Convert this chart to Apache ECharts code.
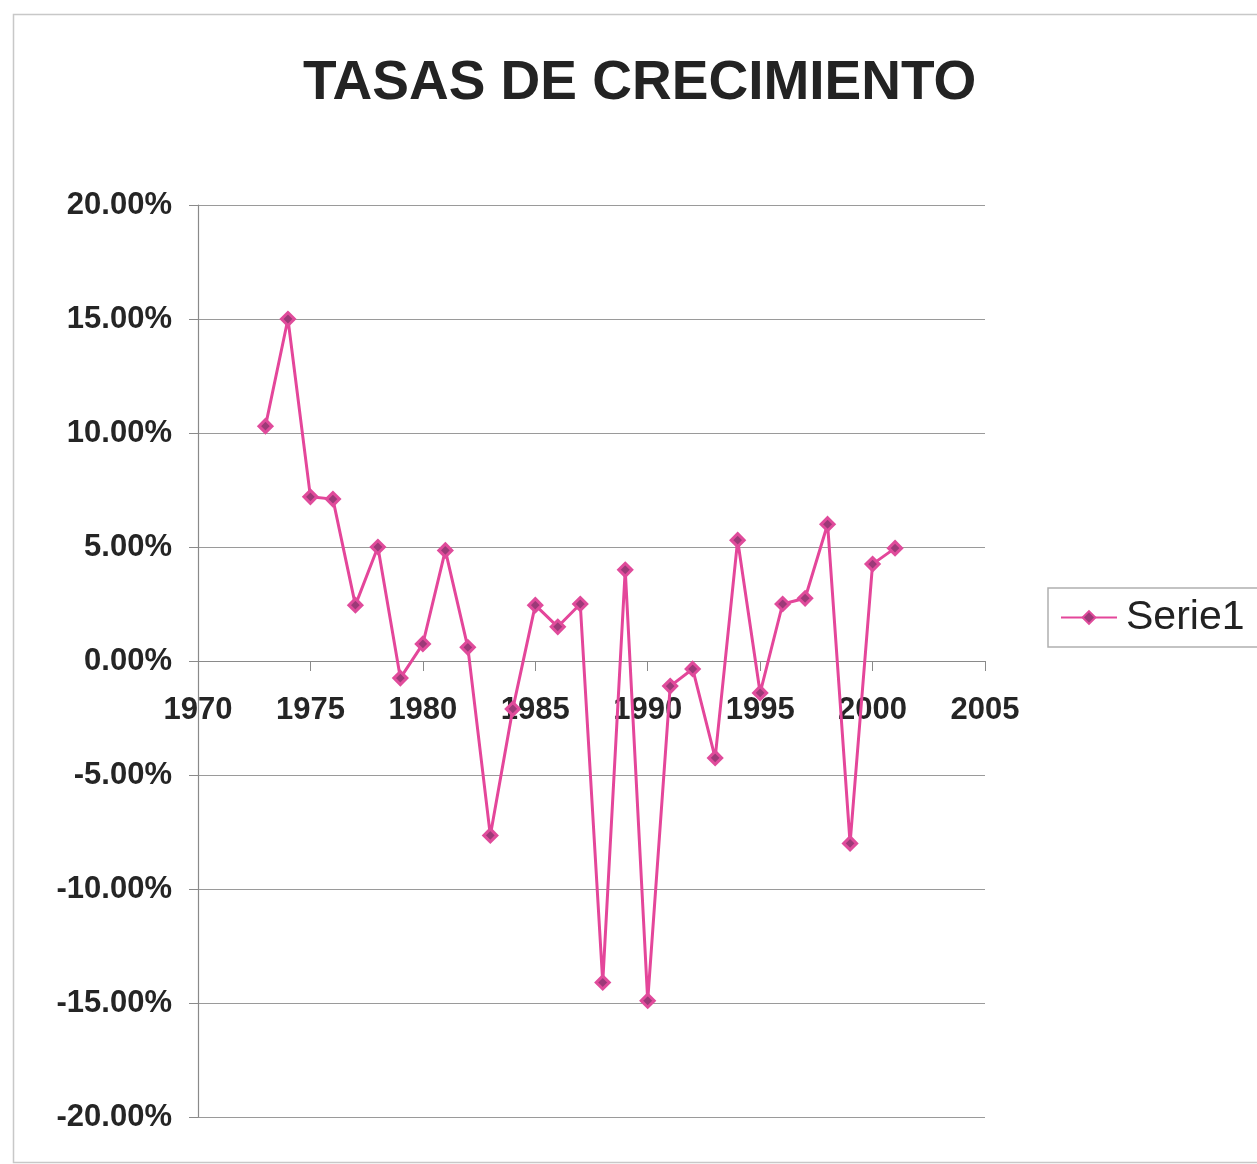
<!DOCTYPE html>
<html>
<head>
<meta charset="utf-8">
<script src="https://cdn.jsdelivr.net/npm/echarts@6/dist/echarts.min.js"></script>
<style>
html,body{margin:0;padding:0;background:#fff;}
#chart{width:1257px;height:1164px;}
</style>
</head>
<body>
<div id="chart"></div>
<script>
const titleText = 'TASAS DE CRECIMIENTO';
const seriesName = 'Serie1';
const years = [1973,1974,1975,1976,1977,1978,1979,1980,1981,1982,1983,1984,1985,1986,1987,1988,1989,1990,1991,1992,1993,1994,1995,1996,1997,1998,1999,2000,2001];
const growth = [10.3,15.0,7.2,7.1,2.45,5.0,-0.75,0.75,4.85,0.6,-7.65,-2.1,2.45,1.5,2.5,-14.1,4.0,-14.9,-1.1,-0.35,-4.25,5.3,-1.4,2.5,2.75,6.0,-8.0,4.25,4.95];
const xTicks = [1970,1975,1980,1985,1990,1995,2000,2005];
const yTicks = [-20,-15,-10,-5,0,5,10,15,20];

const chart = echarts.init(document.getElementById('chart'), null, {renderer:'canvas'});
const font = 'Liberation Sans, Arial, sans-serif';
const gridTop = 205, gridBottom = 47, H = 1164;
const plotH = H - gridTop - gridBottom;
chart.setOption({
  backgroundColor:'#fff',
  animation:false,
  graphic:[{
    type:'rect', left:11, top:12,
    shape:{width:1252, height:1148},
    style:{fill:'none', stroke:'#c8c8c8', lineWidth:1.5}
  }],
  title:{
    text:titleText, left:298, top:51,
    textStyle:{fontFamily:font, fontSize:55, fontWeight:'bold', color:'#232323'}
  },
  legend:{
    data:[seriesName], left:1048, top:588,
    orient:'vertical',
    borderColor:'#b0b0b0', borderWidth:1.5, padding:[9,14,9,12],
    itemWidth:56, itemHeight:16,
    textStyle:{fontFamily:font, fontSize:41, color:'#222', padding:[0,0,0,4]}
  },
  grid:{left:198, right:272, top:gridTop, bottom:gridBottom, containLabel:false, outerBoundsMode:'none'},
  xAxis:{
    type:'value', min:xTicks[0], max:xTicks[xTicks.length-1], interval:5,
    offset:-plotH/2,
    axisLine:{onZero:false, lineStyle:{color:'#8a8a8a', width:1.2}},
    axisTick:{show:true, inside:false, length:10, lineStyle:{color:'#8a8a8a'}},
    splitLine:{show:false},
    axisLabel:{margin:34, fontFamily:font, fontSize:31, fontWeight:'bold', color:'#252525',
      formatter:v=>String(v)}
  },
  yAxis:{
    type:'value', min:yTicks[0], max:yTicks[yTicks.length-1], interval:5,
    axisLine:{show:true, onZero:false, lineStyle:{color:'#8a8a8a', width:1.2}},
    axisTick:{show:true, length:9, lineStyle:{color:'#8a8a8a'}},
    splitLine:{show:true, lineStyle:{color:'#9a9a9a', width:1.2}},
    axisLabel:{margin:26, fontFamily:font, fontSize:31, fontWeight:'bold', color:'#252525',
      formatter:v=>v.toFixed(2)+'%'}
  },
  series:[{
    name:seriesName, type:'line',
    data:years.map((y,i)=>[y, growth[i]]),
    lineStyle:{color:'#e4469a', width:3},
    itemStyle:{color:'#9c3a78', borderColor:'#e04b9b', borderWidth:3},
    symbol:'diamond', symbolSize:13,
    showAllSymbol:true, z:3
  }]
});
</script>
</body>
</html>
